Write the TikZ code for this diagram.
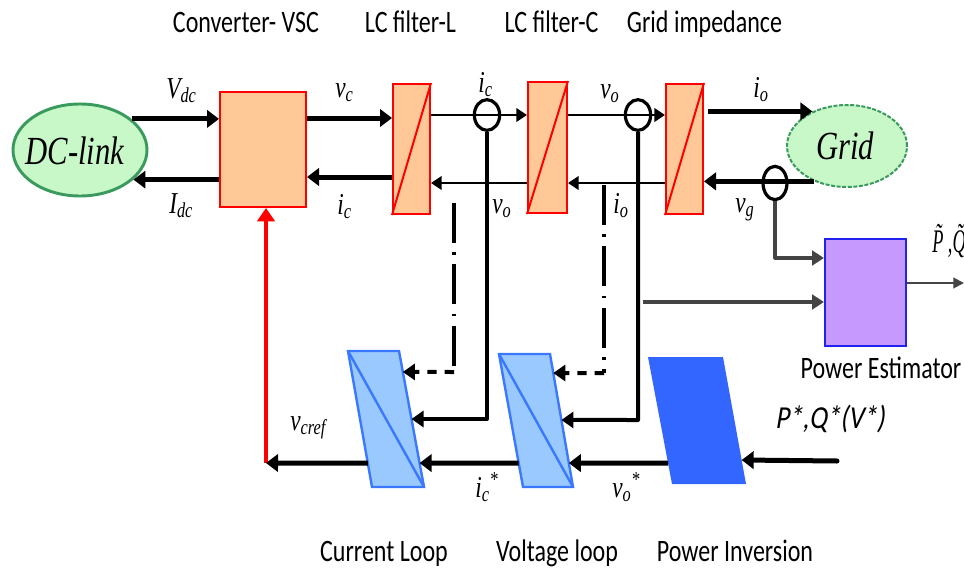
\documentclass[tikz,border=0pt]{standalone}
\usepackage{fontspec}
\setmainfont{Liberation Serif}
\newfontfamily\calfont{Carlito}
\newfontfamily\calslant{Carlito}[FakeSlant=0.2]
\usetikzlibrary{arrows.meta,calc,shapes.geometric}
\newcommand\vstr[1]{\scalebox{1}[1.3]{#1}}
\definecolor{orng}{HTML}{FFC896}
\definecolor{gfill}{HTML}{C8F7C8}
\definecolor{gdraw}{HTML}{3A9A5E}
\definecolor{lfill}{HTML}{99C9FF}
\definecolor{ldraw}{HTML}{3A78FF}
\definecolor{pinv}{HTML}{3366FF}
\definecolor{pest}{HTML}{C699FF}
\definecolor{pestd}{HTML}{2222EE}
\definecolor{gry}{HTML}{444444}
\tikzset{
 bigarrow/.style={line width=3.75pt,-{Triangle[length=9pt,width=13pt]}},
 midarrow/.style={line width=2.2pt,-{Triangle[length=8pt,width=10pt]}},
 fbarrow/.style={line width=3pt,-{Triangle[length=9pt,width=12pt]}},
 grayarrow/.style={gry,line width=2.4pt,-{Triangle[length=9pt,width=11pt]}},
 filtbox/.style={rectangle,draw=red,fill=orng,line width=1.5pt,inner sep=0pt},
 sensor/.style={ellipse,draw,line width=2.4pt,minimum width=19pt,minimum height=23pt,inner sep=0pt},
 lbl/.style={font=\calfont\fontsize{18}{20}\selectfont,inner sep=0pt},
 mlab/.style={font=\fontsize{17.5}{20}\selectfont\itshape,inner sep=0pt},
 loopblk/.style={draw=ldraw,fill=lfill,line width=1.8pt,line join=miter},
 dashdot/.style={line width=3pt,dash pattern=on 30pt off 7pt on 2pt off 7pt},
 shortdash/.style={line width=3pt,dash pattern=on 7pt off 6pt,-{Triangle[length=9pt,width=12pt]}},
 bigtxt/.style={font=\fontsize{23}{26}\selectfont\itshape,inner sep=0pt},
}
\begin{document}
\begin{tikzpicture}[x=0.75pt,y=-0.75pt]
\useasboundingbox (0,0) rectangle (964,571);
% rows
\coordinate (rA) at (0,118);
\coordinate (rB) at (0,177);
\coordinate (rC) at (0,115);
\coordinate (rD) at (0,183);
% top blocks
\node[ellipse,draw=gdraw,fill=gfill,line width=2.2pt,minimum width=100.5pt,minimum height=69pt,inner sep=0pt] (dc) at (80,150) {};
\node[bigtxt] (dctxt) at (75,151) {\vstr{DC-link}};
\node[filtbox,minimum width=64.5pt,minimum height=86.25pt] (conv) at (263,149.5) {};
\node[filtbox,minimum width=27.75pt,minimum height=97.5pt] (fl) at (411.5,149) {};
\node[filtbox,minimum width=29.25pt,minimum height=98.25pt] (fc) at (547.5,147.5) {};
\node[filtbox,minimum width=27.75pt,minimum height=97.5pt] (gi) at (684.5,149) {};
\draw[red,line width=1.5pt] (fl.south west) -- (fl.north east);
\draw[red,line width=1.5pt] (fc.south west) -- (fc.north east);
\draw[red,line width=1.5pt] (gi.south west) -- (gi.north east);
\node[ellipse,draw=gdraw,fill=gfill,line width=1.5pt,dash pattern=on 3pt off 1.2pt,minimum width=90pt,minimum height=61.5pt,inner sep=0pt] (grid) at (847,146) {};
\node[bigtxt] (gridtxt) at (845,146) {\vstr{Grid}};
\node[rectangle,draw=pestd,fill=pest,line width=1.5pt,minimum width=60.75pt,minimum height=80.25pt,inner sep=0pt] (pe) at (865.5,292.5) {};
% top labels
\node[lbl,anchor=base] (t1) at (246,32) {\vstr{Converter- VSC}};
\node[lbl,anchor=base] (t2) at (410.5,32) {\vstr{LC filter-L}};
\node[lbl,anchor=base] (t3) at (551.5,32) {\vstr{LC filter-C}};
\node[lbl,anchor=base] (t4) at (704.5,32) {\vstr{Grid impedance}};
% main power arrows
\draw[bigarrow] (dc.31) -- (dc.31 -| conv.west);
\draw[bigarrow] (conv.west |- dc.-29) -- (dc.-29);
\draw[bigarrow] (conv.east |- rA) -- (fl.west |- rA);
\draw[bigarrow] (fl.west |- rB) -- (conv.east |- rB);
\node[sensor] (s1) at (487,115) {};
\node[sensor] (s2) at (638,115) {};
\draw[midarrow] (fl.east |- rC) -- (fc.west |- rC);
\draw[midarrow] (fc.east |- rC) -- (gi.west |- rC);
\draw[midarrow] (fc.west |- rD) -- (fl.east |- rD);
\draw[midarrow] (gi.west |- rD) -- (fc.east |- rD);
\draw[bigarrow] (gi.east |- grid.135) ++(4,0) -- (grid.135);
\node[sensor,minimum width=18pt,minimum height=25pt] (s3) at (775,183) {};
\draw[bigarrow] (grid.227) -- (grid.227 -| gi.east);
% math labels
\node[mlab,anchor=base west] (lVdc) at (166,98) {\vstr{V\textsubscript{dc}}};
\node[mlab,anchor=base west] (lIdc) at (169,213) {\vstr{I\textsubscript{dc}}};
\node[mlab,anchor=base west] (lvc) at (335,97) {\vstr{v\textsubscript{c}}};
\node[mlab,anchor=base west] (lic) at (337,214) {\vstr{i\textsubscript{c}}};
\node[mlab,anchor=base west] (lic2) at (478,92) {\vstr{i\textsubscript{c}}};
\node[mlab,anchor=base west] (lvo) at (600,98) {\vstr{v\textsubscript{o}}};
\node[mlab,anchor=base west] (lvo2) at (492,213) {\vstr{v\textsubscript{o}}};
\node[mlab,anchor=base west] (lio2) at (613,213) {\vstr{i\textsubscript{o}}};
\node[mlab,anchor=base west] (lio) at (753,97) {\vstr{i\textsubscript{o}}};
\node[mlab,anchor=base west] (lvg) at (735,212) {\vstr{v\textsubscript{g}}};
\node[mlab,anchor=base west] (lvcref) at (290,430) {\vstr{v\textsubscript{cref}}};
\node[mlab,anchor=base west] (licstar) at (475,497) {\vstr{i\textsubscript{c}\textsuperscript{*}}};
\node[mlab,anchor=base west] (lvostar) at (612,497) {\vstr{v\textsubscript{o}\textsuperscript{*}}};
\node[font=\fontsize{19}{22}\selectfont\itshape,inner sep=0pt,anchor=base west] (lPQt) at (932,252) {\scalebox{0.72}[1.3]{P̃ ,Q̃}};
\node[font=\calslant\fontsize{20}{22}\selectfont,inner sep=0pt,anchor=base west] (lPQ) at (775,428) {\scalebox{1}[1.2]{P*,Q*(V*)}};
% loop blocks
\coordinate (cTL) at (348,351); \coordinate (cTR) at (399,351);
\coordinate (cBR) at (424,487); \coordinate (cBL) at (372,487);
\coordinate (vTL) at (499,354); \coordinate (vTR) at (550,354);
\coordinate (vBR) at (573,487); \coordinate (vBL) at (523,487);
\coordinate (pTL) at (648,357); \coordinate (pTR) at (723,357);
\coordinate (pBR) at (746,484); \coordinate (pBL) at (672,484);
\draw[loopblk] (cTL) -- (cTR) -- (cBR) -- (cBL) -- cycle;
\draw[ldraw,line width=1.8pt] (cTL) -- (cBR);
\draw[loopblk] (vTL) -- (vTR) -- (vBR) -- (vBL) -- cycle;
\draw[ldraw,line width=1.8pt] (vTL) -- (vBR);
\fill[pinv] (pTL) -- (pTR) -- (pBR) -- (pBL) -- cycle;
\coordinate (cin1) at ($(cTR)!0.154!(cBR)$);
\coordinate (cin2) at ($(cTR)!0.5!(cBR)$);
\coordinate (cin3) at ($(cTR)!0.824!(cBR)$);
\coordinate (cout) at ($(cTL)!0.824!(cBL)$);
\coordinate (vin1) at ($(vTR)!0.143!(vBR)$);
\coordinate (vin2) at ($(vTR)!0.496!(vBR)$);
\coordinate (vin3) at ($(vTR)!0.82!(vBR)$);
\coordinate (vout) at ($(vTL)!0.82!(vBL)$);
\coordinate (pin) at ($(pTR)!0.811!(pBR)$);
\coordinate (pout) at ($(pTL)!0.835!(pBL)$);
% feedback lines
\draw[fbarrow,line join=round] (s1.south) -- (487,419) -- (cin2);
\draw[fbarrow,line join=round] (s2.south) -- (638,420) -- (vin2);
\coordinate (d1) at (454,203);
\coordinate (d1c) at (454,372);
\draw[dashdot] (d1) -- (d1c);
\draw[shortdash] (d1c) -- (cin1);
\coordinate (d2) at (604,185);
\coordinate (d2c) at (604,373);
\draw[dashdot] (d2) -- (d2c);
\draw[shortdash] (d2c) -- (vin1);
% power estimator inputs
\draw[grayarrow,line join=round] (s3.south) -- (775,258) -- (pe.west |- 0,258);
\coordinate (pe2) at (643,302);
\draw[grayarrow] (pe2) -- (pe.west |- pe2);
\coordinate (peo) at (964,283);
\draw[gry,line width=1.5pt,-{Triangle[length=8pt,width=8pt]}] (pe.east |- peo) -- (peo);
% bottom chain
\coordinate (pq) at (837,461);
\draw[bigarrow,line cap=round] (pq) -- (pin);
\draw[bigarrow] (pout) -- (vin3);
\draw[bigarrow] (vout) -- (cin3);
\coordinate (vref) at (266,463);
\draw[red,line width=3pt,-{Triangle[length=10pt,width=13pt]}] (vref) -- (vref |- conv.south);
\draw[bigarrow] (cout) -- (vref);
% labels
\node[lbl,anchor=base] (pel) at (881,378) {\vstr{Power Estimator}};
\node[lbl,anchor=base] (b1) at (384,561) {\vstr{Current Loop}};
\node[lbl,anchor=base] (b2) at (557,561) {\vstr{Voltage loop}};
\node[lbl,anchor=base] (b3) at (735,561) {\vstr{Power Inversion}};
\end{tikzpicture}
\end{document}
